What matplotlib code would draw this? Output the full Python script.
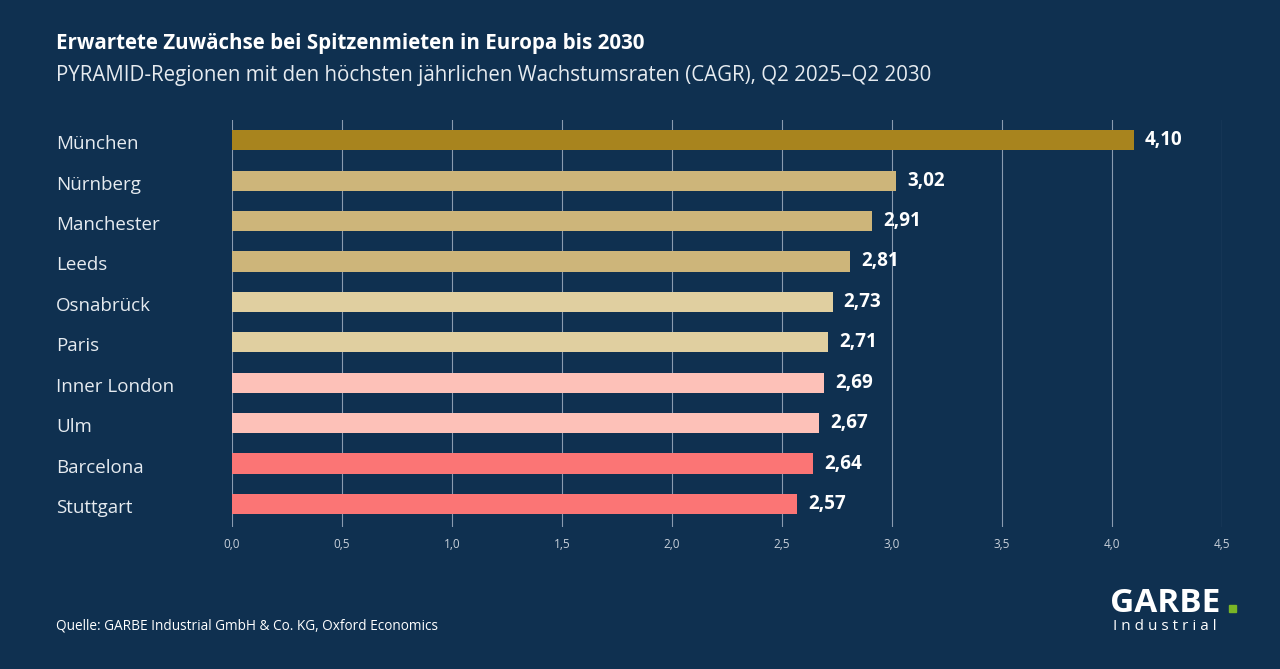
import matplotlib.pyplot as plt
from matplotlib.patches import Rectangle

plt.rcParams['font.family'] = 'Open Sans'

regionen = ['München', 'Nürnberg', 'Manchester', 'Leeds', 'Osnabrück', 'Paris',
            'Inner London', 'Ulm', 'Barcelona', 'Stuttgart']
cagr = [4.10, 3.02, 2.91, 2.81, 2.73, 2.71, 2.69, 2.67, 2.64, 2.57]
farben = ['#a8841e', '#cdb57a', '#cdb57a', '#cdb57a', '#e0cfa0', '#e0cfa0',
          '#fdc1b8', '#fdc1b8', '#fb7575', '#fb7575']
x_ticks = [0, 0.5, 1.0, 1.5, 2.0, 2.5, 3.0, 3.5, 4.0, 4.5]

bg = '#0f3050'
fig = plt.figure(figsize=(12.8, 6.69), dpi=100, facecolor=bg)
ax = fig.add_axes([0.18125, 0.2123, 0.7735, 0.6083], facecolor=bg)

y = range(len(regionen))
ax.barh(y, cagr, height=0.5, color=farben, zorder=3)
for i, v in enumerate(cagr):
    ax.text(v + 0.05, i, f'{v:.2f}'.replace('.', ','), color='white',
            fontsize=13.5, fontweight='bold', va='center', zorder=4)

ax.set_xlim(0, 4.5)
ax.set_ylim(9.57, -0.5)
ax.set_xticks(x_ticks)
ax.set_xticklabels([f'{t:.1f}'.replace('.', ',') for t in x_ticks],
                   color='#c8d0da', fontsize=8.5)
ax.set_yticks([])
ax.grid(axis='x', color='#8a9bb0', linewidth=0.8, zorder=0)
ax.tick_params(axis='x', length=0, pad=8)
for s in ax.spines.values():
    s.set_visible(False)

for i, r in enumerate(regionen):
    yy = 0.8206 - (i + 0.5) * 0.6083 / 10.07 - 4 / 669
    fig.text(56 / 1280, yy, r, color='#e6ebf0', fontsize=13.5, va='center')

fig.text(56 / 1280, 1 - 44 / 669, 'Erwartete Zuwächse bei Spitzenmieten in Europa bis 2030',
         color='white', fontsize=14.8, fontweight='bold', va='center')
fig.text(56 / 1280, 1 - 76 / 669,
         'PYRAMID-Regionen mit den höchsten jährlichen Wachstumsraten (CAGR), Q2 2025–Q2 2030',
         color='#e6ebf0', fontsize=14.8, va='center')
fig.text(56 / 1280, 1 - 626 / 669, 'Quelle: GARBE Industrial GmbH & Co. KG, Oxford Economics',
         color='white', fontsize=9.8, va='center')

fig.text(1110 / 1280, 1 - 603 / 669, 'GARBE', color='white', fontsize=24,
         fontweight='bold', va='center')
fig.patches.append(Rectangle((1229 / 1280, 1 - 612 / 669), 7 / 1280, 7 / 669,
                             transform=fig.transFigure, color='#7ab526'))
fig.text(1113 / 1280, 1 - 626 / 669, 'I n d u s t r i a l', color='white',
         fontsize=11, va='center')

fig.savefig('out.png', dpi=100, facecolor=bg)
